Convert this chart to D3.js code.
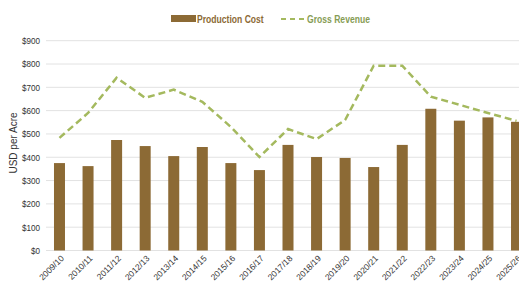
<!DOCTYPE html>
<html>
<head>
<meta charset="utf-8">
<script src="https://cdn.jsdelivr.net/npm/d3@7"></script>
<style>
  html, body { margin: 0; padding: 0; background: #fff; }
  svg { display: block; font-family: "Liberation Sans", Arial, sans-serif; }
</style>
</head>
<body>
<div class="chart"></div>
<script>
// crop years
const seasons = ['2009/10', '2010/11', '2011/12', '2012/13', '2013/14', '2014/15', '2015/16', '2016/17',
  '2017/18', '2018/19', '2019/20', '2020/21', '2021/22', '2022/23', '2023/24', '2024/25', '2025/26'];
// USD per acre
const productionCost = [375, 362, 474, 448, 405, 444, 375, 345, 453, 401, 397, 358, 453, 608, 557, 571, 552];
const grossRevenue = [483, 590, 741, 655, 690, 638, 530, 401, 521, 478, 560, 793, 793, 660, 625, 590, 556];
const yTicks = [0, 100, 200, 300, 400, 500, 600, 700, 800, 900];

const width = 519, height = 284;
const barColor = '#8c6a35';
const lineColor = '#a4b95e';

const svg = d3.select('.chart')
  .append('svg')
  .attr('width', width)
  .attr('height', height);

// Scales
const x = d3.scaleBand().domain(seasons).range([45.2, 530.8]).paddingInner(0.615).paddingOuter(0.3075);
const y = d3.scaleLinear().domain([0, 900]).range([250.5, 40.7]);

// Grid
svg.append('g')
  .selectAll('line')
  .data(yTicks)
  .enter()
  .append('line')
  .attr('x1', 46).attr('x2', width)
  .attr('y1', d => y(d)).attr('y2', d => y(d))
  .attr('stroke', '#e2e2e2')
  .attr('stroke-width', 1);

// Y axis
const yAxis = d3.axisLeft(y).tickValues(yTicks).tickFormat(d => '$' + d).tickSize(0).tickPadding(0);
const gy = svg.append('g').attr('transform', 'translate(40,0)').call(yAxis);
gy.select('.domain').remove();
gy.selectAll('text').attr('font-size', 9).attr('fill', '#333')
  .attr('transform', 'scale(0.9,1)');

svg.append('text')
  .attr('transform', 'translate(17,143) rotate(-90)')
  .attr('text-anchor', 'middle')
  .attr('font-size', 10)
  .attr('fill', '#333')
  .text('USD per Acre');

// X axis
const xAxis = d3.axisBottom(x).tickSize(0).tickPadding(0);
const gx = svg.append('g').attr('transform', 'translate(0,251)').call(xAxis);
gx.select('.domain').remove();
gx.selectAll('text')
  .attr('font-size', 8.5)
  .attr('fill', '#333')
  .attr('text-anchor', 'end')
  .attr('dy', 0)
  .attr('transform', 'translate(5,8) rotate(-45)');

// Bars
svg.append('g')
  .selectAll('rect')
  .data(productionCost)
  .enter()
  .append('rect')
  .attr('x', (d, i) => x(seasons[i]))
  .attr('y', d => y(d))
  .attr('width', x.bandwidth())
  .attr('height', d => y(0) - y(d))
  .attr('fill', barColor);

// Line
const line = d3.line()
  .x((d, i) => x(seasons[i]) + x.bandwidth() / 2)
  .y(d => y(d));

svg.append('path')
  .datum(grossRevenue)
  .attr('d', line)
  .attr('fill', 'none')
  .attr('stroke', lineColor)
  .attr('stroke-width', 2.5)
  .attr('stroke-dasharray', '7,4');

// Legend
const legend = svg.append('g');
legend.append('rect')
  .attr('x', 171).attr('y', 15).attr('width', 25).attr('height', 7)
  .attr('fill', barColor);
legend.append('text')
  .attr('transform', 'translate(197,22.5) scale(0.78,1)')
  .attr('font-size', 11).attr('font-weight', 'bold')
  .attr('fill', '#8c6a35')
  .text('Production Cost');
legend.append('line')
  .attr('x1', 281).attr('x2', 304).attr('y1', 19).attr('y2', 19)
  .attr('stroke', lineColor).attr('stroke-width', 2)
  .attr('stroke-dasharray', '5,4');
legend.append('text')
  .attr('transform', 'translate(307,22.5) scale(0.78,1)')
  .attr('font-size', 11).attr('font-weight', 'bold')
  .attr('fill', '#869c55')
  .text('Gross Revenue');
</script>
</body>
</html>
